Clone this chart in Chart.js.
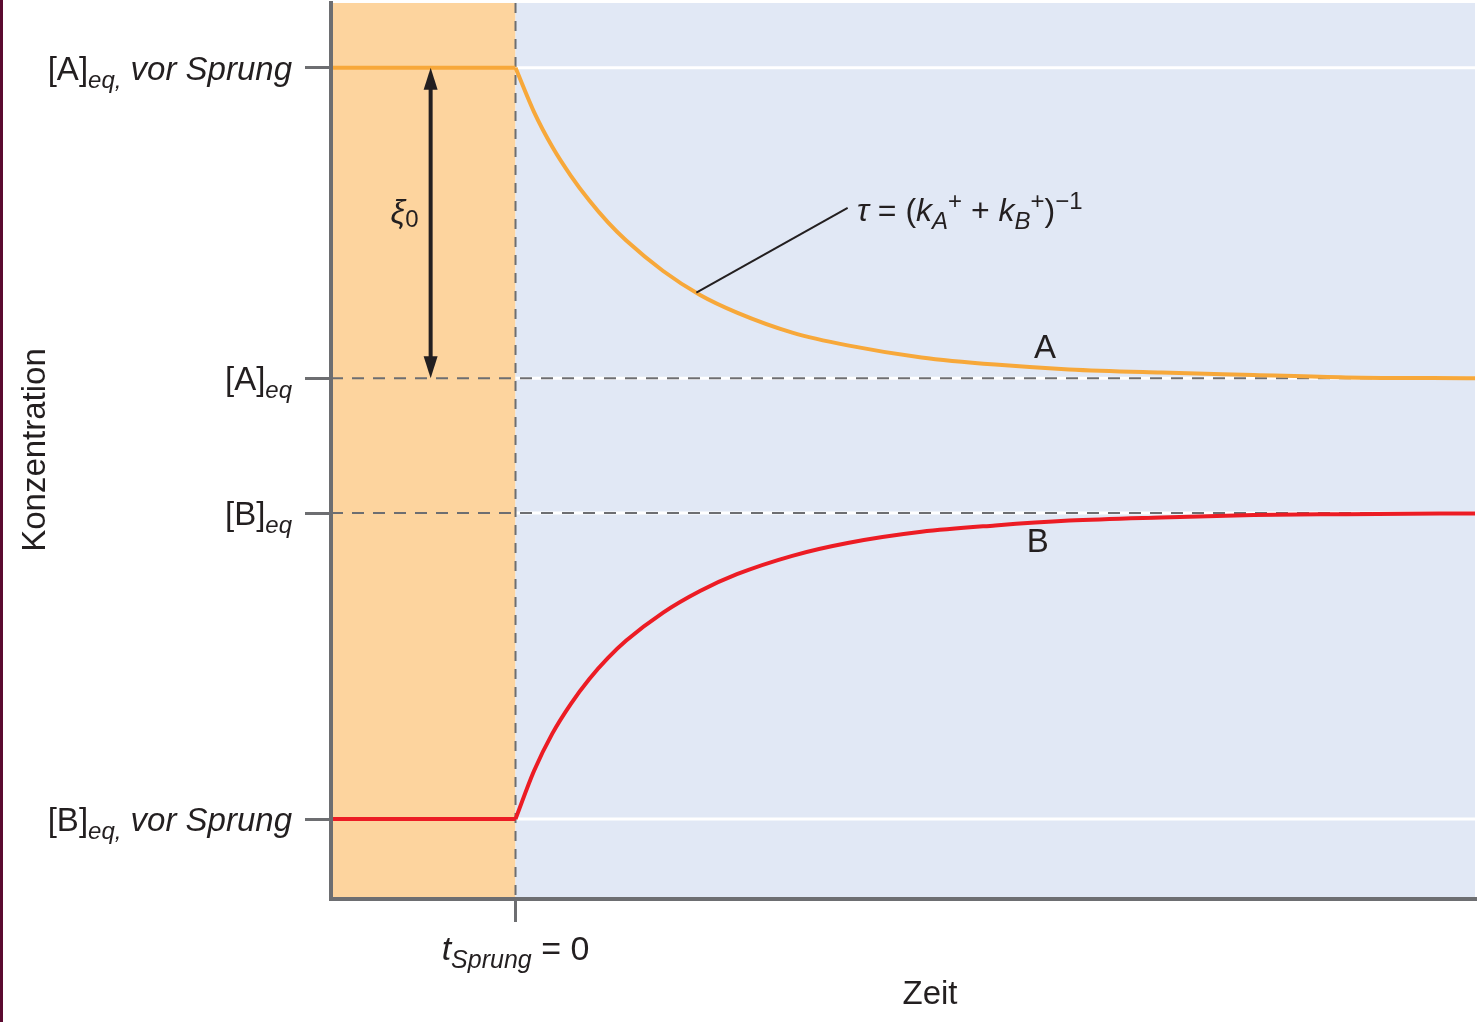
<!DOCTYPE html>
<html lang="de">
<head>
<meta charset="UTF-8">
<title>Konzentration nach Sprung</title>
<style>
  body { margin: 0; background: #fff; }
  #wrap { position: relative; width: 1482px; height: 1022px; }
  #edge { position: absolute; left: 0; top: 0; width: 3px; height: 1022px; background: #5b0a30; }
</style>
</head>
<body>
<div id="wrap">
  <canvas id="chart"></canvas>
  <div id="edge"></div>
</div>
<script src="https://cdn.jsdelivr.net/npm/chart.js"></script>
<script>
// time before the jump and after it
const timePre = [-1, 0];
const concAPre = [10.39, 10.39];
const concBPre = [1.0, 1.0];
const timePost = [0, 0.1, 0.2, 0.3, 0.4, 0.5, 0.6, 0.8, 1.0, 1.2, 1.5, 1.8, 2.2, 2.6, 3.0, 3.5, 4.0, 4.5, 5.2];
const concA = [10.39, 9.84, 9.40, 9.04, 8.73, 8.46, 8.23, 7.85, 7.55, 7.33, 7.08, 6.92, 6.77, 6.68, 6.62, 6.58, 6.55, 6.52, 6.51];
const concB = [1.00, 1.60, 2.07, 2.44, 2.75, 3.01, 3.23, 3.58, 3.85, 4.06, 4.29, 4.45, 4.59, 4.67, 4.73, 4.77, 4.80, 4.81, 4.82];

// y ticks: [A]eq vor Sprung, [A]eq, [B]eq, [B]eq vor Sprung
const levelValues = [10.39, 6.51, 4.825, 1.0];
const levelLabels = [
  ['[A]', 'eq,', ' vor Sprung'],
  ['[A]', 'eq', ''],
  ['[B]', 'eq', ''],
  ['[B]', 'eq,', ' vor Sprung']
];
const xTicks = [0];

const ORANGE = '#f7a83a';
const RED = '#ec1c24';
const GRAY = '#6d6e71';
const INK = '#231f20';
const FAMILY = '"Liberation Sans", Arial, sans-serif';

function fontOf(p) {
  return (p.it ? 'italic ' : '') + (p.sz || 33) + 'px ' + FAMILY;
}

function drawRich(ctx, parts, x, y, align) {
  const widths = parts.map(p => { ctx.font = fontOf(p); return ctx.measureText(p.t).width; });
  const total = widths.reduce((a, b) => a + b, 0);
  let cx = align === 'right' ? x - total : align === 'center' ? x - total / 2 : x;
  ctx.textAlign = 'left';
  ctx.textBaseline = 'alphabetic';
  parts.forEach((p, i) => {
    ctx.font = fontOf(p);
    ctx.fillText(p.t, cx, y + (p.dy || 0));
    cx += widths[i];
  });
}

function pts(xs, ys) {
  return xs.map((v, i) => ({ x: v, y: ys[i] }));
}

const backdrop = {
  id: 'backdrop',
  beforeDraw(chart) {
    const { ctx, chartArea: a, scales: { x, y } } = chart;
    const x0 = x.getPixelForValue(0);
    ctx.save();
    ctx.fillStyle = '#fdd49e';
    ctx.fillRect(a.left, a.top, x0 - a.left, a.bottom - a.top);
    ctx.fillStyle = '#e1e8f5';
    ctx.fillRect(x0, a.top, a.right - x0, a.bottom - a.top);

    // white level lines in the blue part
    ctx.strokeStyle = '#fff';
    ctx.lineWidth = 3;
    levelValues.forEach(v => {
      const py = y.getPixelForValue(v);
      ctx.beginPath();
      ctx.moveTo(x0, py);
      ctx.lineTo(a.right, py);
      ctx.stroke();
    });

    // dashed equilibrium lines
    ctx.strokeStyle = GRAY;
    ctx.lineWidth = 2;
    ctx.setLineDash([12, 9]);
    [levelValues[1], levelValues[2]].forEach(v => {
      const py = y.getPixelForValue(v);
      ctx.beginPath();
      ctx.moveTo(a.left, py);
      ctx.lineTo(a.right, py);
      ctx.stroke();
    });
    ctx.setLineDash([10, 8]);
    ctx.beginPath();
    ctx.moveTo(x0, a.top);
    ctx.lineTo(x0, a.bottom);
    ctx.stroke();
    ctx.restore();
  },
  afterDraw(chart) {
    const { ctx, chartArea: a, scales: { x, y } } = chart;
    ctx.save();
    ctx.fillStyle = INK;
    ctx.strokeStyle = INK;

    // y tick labels
    levelLabels.forEach((l, i) => {
      const py = y.getPixelForValue(levelValues[i]) + 12;
      drawRich(ctx, [
        { t: l[0], sz: 33 },
        { t: l[1], it: 1, sz: 24, dy: 8 },
        { t: l[2], it: 1, sz: 33 }
      ], a.left - 39, py, 'right');
    });

    // x tick label
    drawRich(ctx, [
      { t: 't', it: 1, sz: 34 },
      { t: 'Sprung', it: 1, sz: 25, dy: 8 },
      { t: ' = 0', sz: 34 }
    ], x.getPixelForValue(0), 960, 'center');

    // axis titles
    ctx.font = '33px ' + FAMILY;
    ctx.textAlign = 'center';
    ctx.textBaseline = 'middle';
    ctx.fillText('Zeit', 930, 995);
    ctx.save();
    ctx.translate(36, 450);
    ctx.rotate(-Math.PI / 2);
    ctx.fillText('Konzentration', 0, 0);
    ctx.restore();

    // curve labels
    ctx.fillText('A', x.getPixelForValue(2.87), y.getPixelForValue(6.88));
    ctx.fillText('B', x.getPixelForValue(2.83), y.getPixelForValue(4.45));

    // double arrow xi0
    const ax = x.getPixelForValue(-0.46);
    const yTop = y.getPixelForValue(levelValues[0]);
    const yBot = y.getPixelForValue(levelValues[1]);
    const head = 22, hw = 7;
    ctx.lineWidth = 4;
    ctx.beginPath();
    ctx.moveTo(ax, yTop + head - 2);
    ctx.lineTo(ax, yBot - head + 2);
    ctx.stroke();
    ctx.beginPath();
    ctx.moveTo(ax, yTop);
    ctx.lineTo(ax - hw, yTop + head);
    ctx.lineTo(ax + hw, yTop + head);
    ctx.closePath();
    ctx.fill();
    ctx.beginPath();
    ctx.moveTo(ax, yBot);
    ctx.lineTo(ax - hw, yBot - head);
    ctx.lineTo(ax + hw, yBot - head);
    ctx.closePath();
    ctx.fill();
    drawRich(ctx, [
      { t: 'ξ', it: 1, sz: 33 },
      { t: '0', sz: 24, dy: 4 }
    ], ax - 12, 223, 'right');

    // tau pointer
    ctx.lineWidth = 2;
    ctx.beginPath();
    ctx.moveTo(x.getPixelForValue(0.98), y.getPixelForValue(7.58));
    ctx.lineTo(x.getPixelForValue(1.80), y.getPixelForValue(8.64));
    ctx.stroke();
    drawRich(ctx, [
      { t: 'τ', it: 1, sz: 32 },
      { t: ' = (', sz: 32 },
      { t: 'k', it: 1, sz: 32 },
      { t: 'A', it: 1, sz: 24, dy: 8 },
      { t: '+', sz: 24, dy: -12 },
      { t: ' + ', sz: 32 },
      { t: 'k', it: 1, sz: 32 },
      { t: 'B', it: 1, sz: 24, dy: 8 },
      { t: '+', sz: 24, dy: -12 },
      { t: ')', sz: 32 },
      { t: '−1', sz: 24, dy: -12 }
    ], 857, 221, 'left');
    ctx.restore();
  }
};

new Chart(document.getElementById('chart'), {
  type: 'line',
  data: {
    datasets: [
      { label: 'A vor', data: pts(timePre, concAPre), borderColor: ORANGE },
      { label: 'A', data: pts(timePost, concA), borderColor: ORANGE, cubicInterpolationMode: 'monotone' },
      { label: 'B vor', data: pts(timePre, concBPre), borderColor: RED },
      { label: 'B', data: pts(timePost, concB), borderColor: RED, cubicInterpolationMode: 'monotone' }
    ]
  },
  options: {
    responsive: true,
    maintainAspectRatio: false,
    animation: false,
    layout: { padding: { left: 305, right: 7, top: 3, bottom: 100 } },
    elements: {
      line: { borderWidth: 4, fill: false },
      point: { radius: 0 }
    },
    plugins: { legend: { display: false }, tooltip: { enabled: false } },
    scales: {
      x: {
        type: 'linear',
        min: -1,
        max: 5.2,
        afterBuildTicks: s => { s.ticks = xTicks.map(v => ({ value: v })); },
        ticks: { display: false },
        grid: { drawOnChartArea: false, drawTicks: true, tickLength: 23, color: GRAY, lineWidth: 3 },
        border: { display: true, color: GRAY, width: 4, z: 1 }
      },
      y: {
        type: 'linear',
        min: 0,
        max: 11.2,
        afterBuildTicks: s => { s.ticks = levelValues.map(v => ({ value: v })); },
        ticks: { display: false },
        grid: { drawOnChartArea: false, drawTicks: true, tickLength: 26, color: GRAY, lineWidth: 3 },
        border: { display: true, color: GRAY, width: 4, z: 1 }
      }
    }
  },
  plugins: [backdrop]
});
</script>
</body>
</html>
